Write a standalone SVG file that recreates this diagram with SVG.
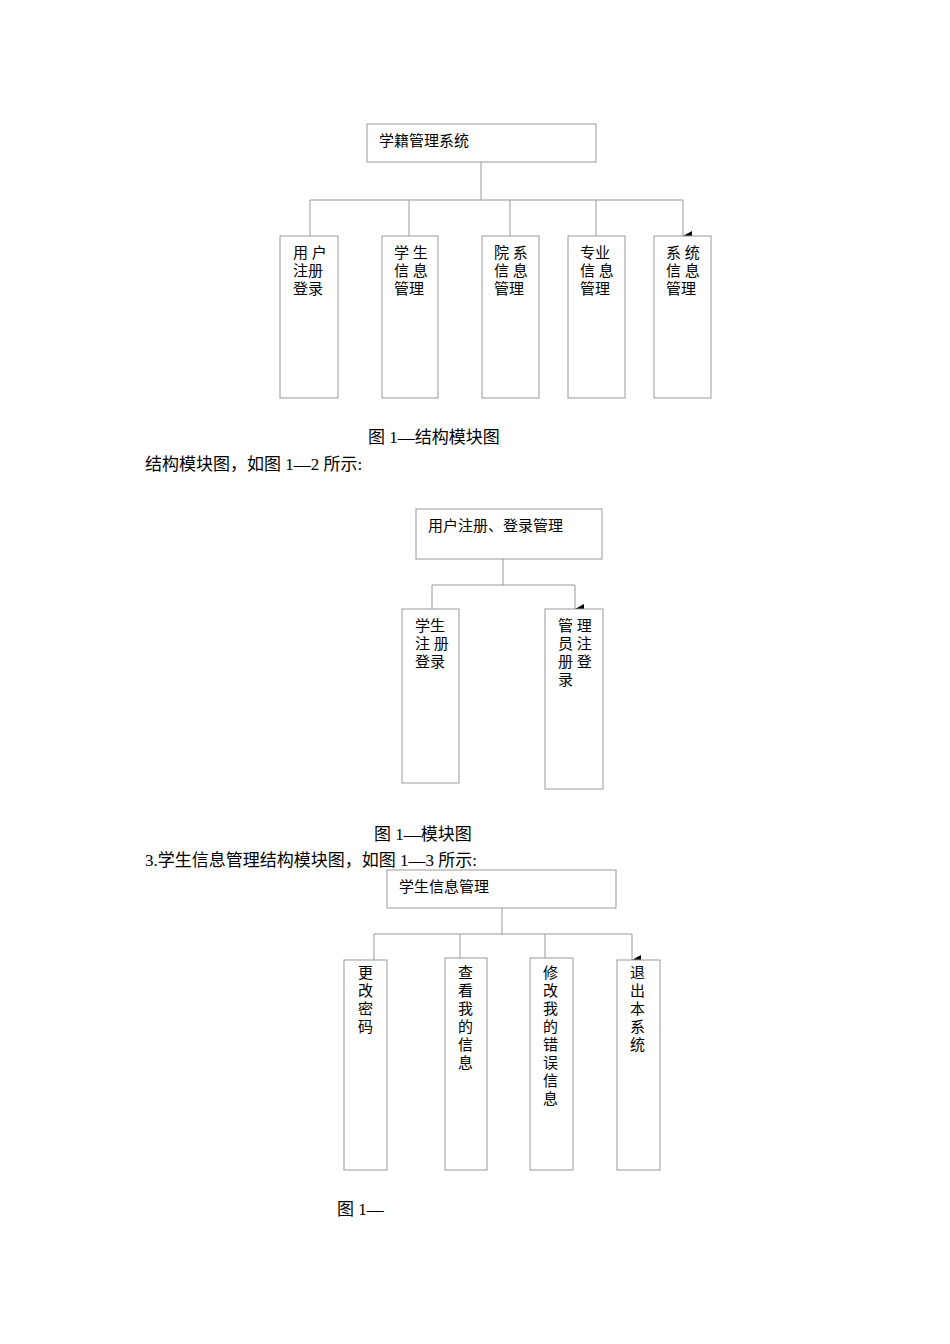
<svg xmlns="http://www.w3.org/2000/svg" width="950" height="1344" viewBox="0 0 950 1344">
<style>
.b{fill:#fff;stroke:#999;stroke-width:1}
.l{fill:none;stroke:#999;stroke-width:1}
.t{font-family:"Liberation Serif","Noto Sans CJK SC",serif;font-size:15px;fill:#000}
.c{font-family:"Liberation Serif","Noto Sans CJK SC",serif;font-size:17px;fill:#000}
</style>
<defs><marker id="a" markerWidth="10" markerHeight="10" refX="5" refY="9" orient="auto" markerUnits="userSpaceOnUse"><path d="M0,0L10,0L5,9z" fill="#000"/></marker></defs>
<rect width="950" height="1344" fill="#fff"/>
<g id="connectors">
<path class="l" d="M481,162V200M310,200H683"/>
<path class="l" d="M310,200V236M409,200V236M510,200V236M596,200V236M683,200V236" marker-end="url(#a)"/>
<path class="l" d="M503,559V585M432,585H575"/>
<path class="l" d="M432,585V609M575,585V609" marker-end="url(#a)"/>
<path class="l" d="M502,908V934M374,934H632"/>
<path class="l" d="M374,934V960M460,934V958M545,934V958M632,934V960" marker-end="url(#a)"/>
</g>
<g id="n1"><rect class="b" x="367" y="124" width="229" height="38"/><text class="t" x="379" y="146">学籍管理系统</text></g>
<g id="n2"><rect class="b" x="280" y="236" width="58" height="162"/><text class="t" x="293" y="258">用 户</text><text class="t" x="293" y="276">注册</text><text class="t" x="293" y="294">登录</text></g>
<g id="n3"><rect class="b" x="382" y="236" width="56" height="162"/><text class="t" x="394" y="258">学 生</text><text class="t" x="394" y="276">信 息</text><text class="t" x="394" y="294">管理</text></g>
<g id="n4"><rect class="b" x="482" y="236" width="57" height="162"/><text class="t" x="494" y="258">院 系</text><text class="t" x="494" y="276">信 息</text><text class="t" x="494" y="294">管理</text></g>
<g id="n5"><rect class="b" x="568" y="236" width="57" height="162"/><text class="t" x="580" y="258">专业</text><text class="t" x="580" y="276">信 息</text><text class="t" x="580" y="294">管理</text></g>
<g id="n6"><rect class="b" x="654" y="236" width="57" height="162"/><text class="t" x="666" y="258">系 统</text><text class="t" x="666" y="276">信 息</text><text class="t" x="666" y="294">管理</text></g>
<text class="c" x="368" y="443">图 1—结构模块图</text>
<text class="c" x="145" y="470">结构模块图，如图 1—2 所示:</text>
<g id="n7"><rect class="b" x="416" y="509" width="186" height="50"/><text class="t" x="428" y="531">用户注册、登录管理</text></g>
<g id="n8"><rect class="b" x="402" y="609" width="57" height="174"/><text class="t" x="415" y="631">学生</text><text class="t" x="415" y="649">注 册</text><text class="t" x="415" y="667">登录</text></g>
<g id="n9"><rect class="b" x="545" y="609" width="58" height="180"/><text class="t" x="558" y="631">管 理</text><text class="t" x="558" y="649">员 注</text><text class="t" x="558" y="667">册 登</text><text class="t" x="558" y="685">录</text></g>
<text class="c" x="374" y="840">图 1—模块图</text>
<text class="c" x="145" y="866">3.学生信息管理结构模块图，如图 1—3 所示:</text>
<g id="n10"><rect class="b" x="387" y="870" width="229" height="38"/><text class="t" x="399" y="892">学生信息管理</text></g>
<g id="n11"><rect class="b" x="344" y="960" width="43" height="210"/><text class="t" x="358" y="978">更</text><text class="t" x="358" y="996">改</text><text class="t" x="358" y="1014">密</text><text class="t" x="358" y="1032">码</text></g>
<g id="n12"><rect class="b" x="445" y="958" width="42" height="212"/><text class="t" x="458" y="978">查</text><text class="t" x="458" y="996">看</text><text class="t" x="458" y="1014">我</text><text class="t" x="458" y="1032">的</text><text class="t" x="458" y="1050">信</text><text class="t" x="458" y="1068">息</text></g>
<g id="n13"><rect class="b" x="530" y="958" width="43" height="212"/><text class="t" x="543" y="978">修</text><text class="t" x="543" y="996">改</text><text class="t" x="543" y="1014">我</text><text class="t" x="543" y="1032">的</text><text class="t" x="543" y="1050">错</text><text class="t" x="543" y="1068">误</text><text class="t" x="543" y="1086">信</text><text class="t" x="543" y="1104">息</text></g>
<g id="n14"><rect class="b" x="617" y="960" width="43" height="210"/><text class="t" x="630" y="978">退</text><text class="t" x="630" y="996">出</text><text class="t" x="630" y="1014">本</text><text class="t" x="630" y="1032">系</text><text class="t" x="630" y="1050">统</text></g>
<text class="c" x="337" y="1215">图 1—</text>
</svg>
